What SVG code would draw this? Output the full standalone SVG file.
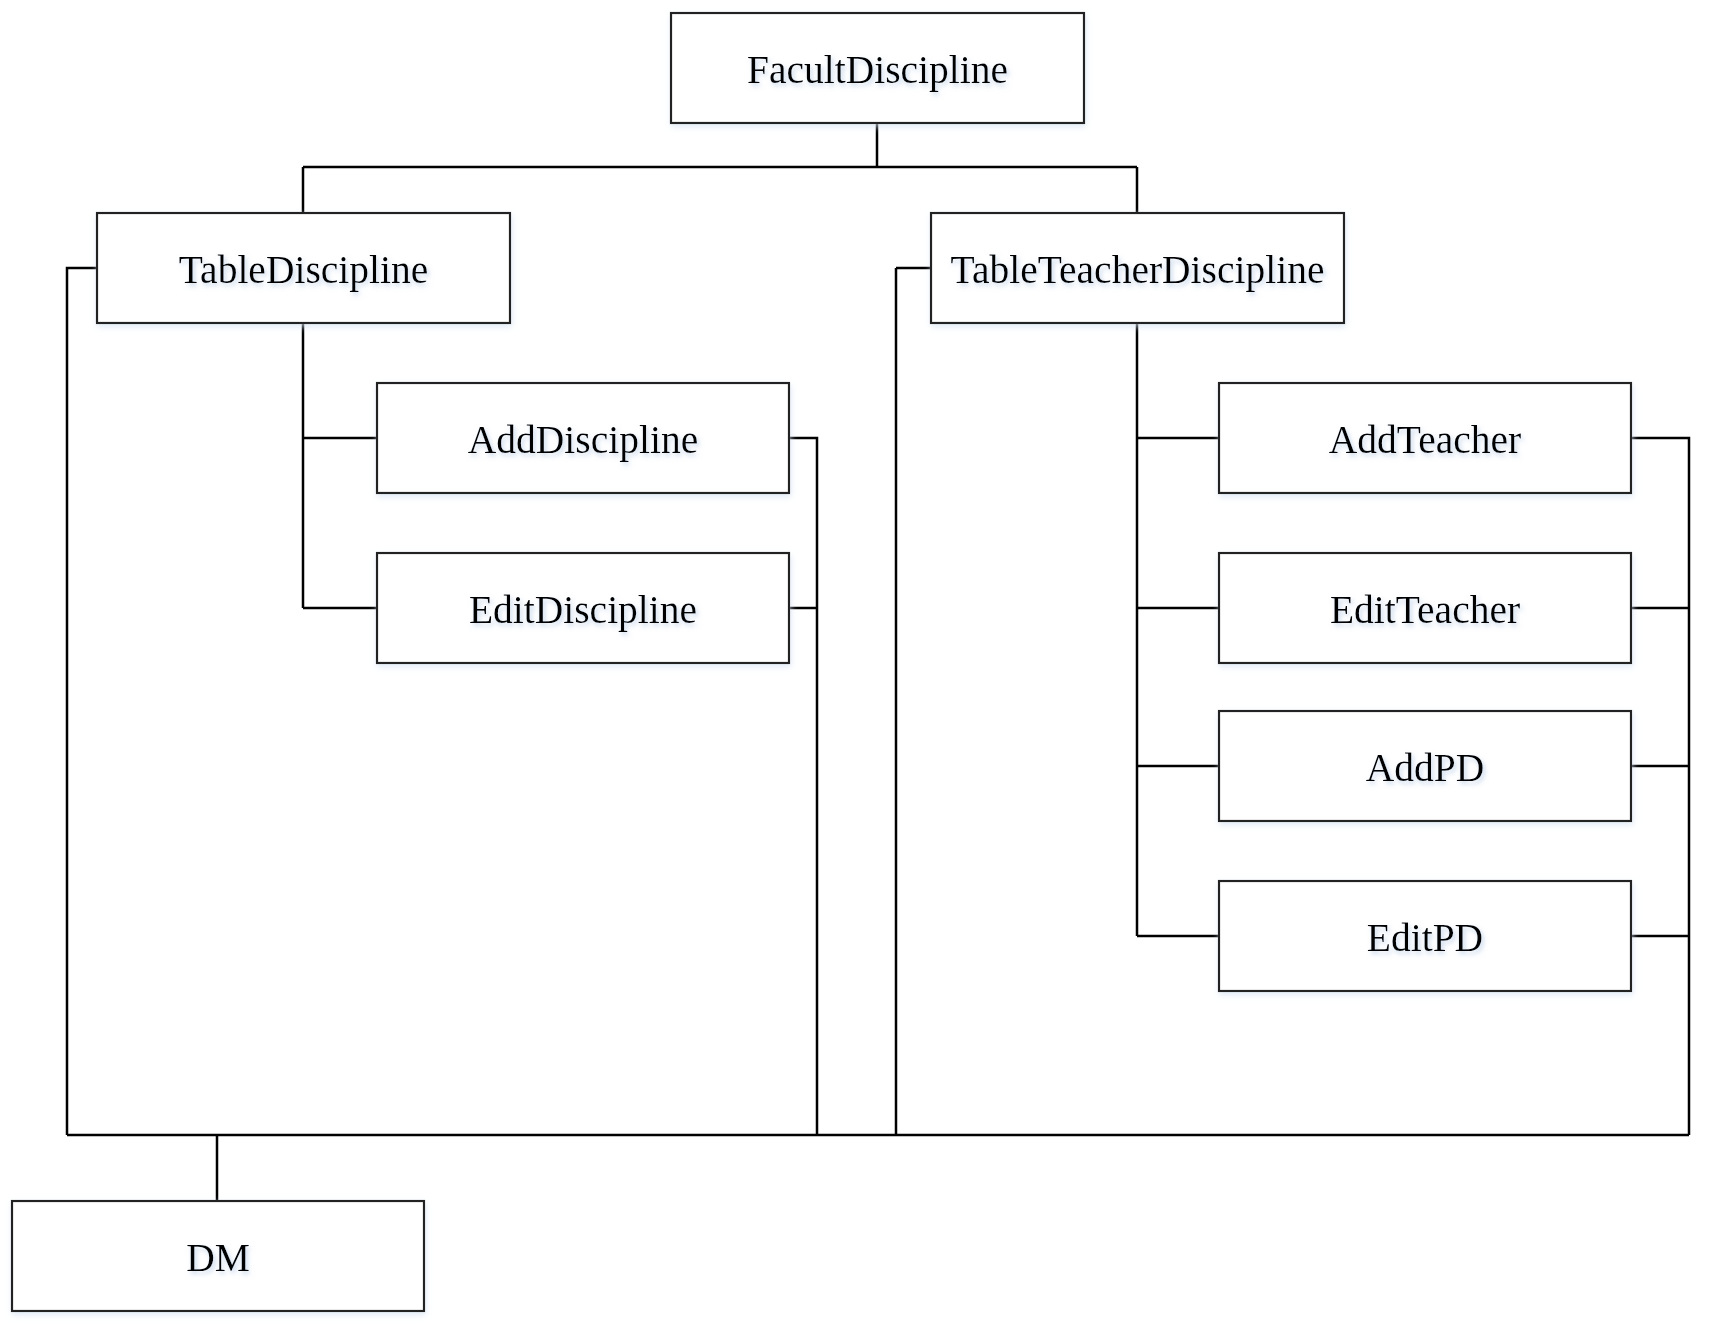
<svg xmlns="http://www.w3.org/2000/svg" width="1714" height="1334" viewBox="0 0 1714 1334">
<defs>
<filter id="glow" x="-10%" y="-30%" width="120%" height="160%">
<feDropShadow dx="2" dy="3" stdDeviation="2.5" flood-color="#b9cde6" flood-opacity="0.8"/>
</filter>
<filter id="bshadow" x="-5%" y="-10%" width="110%" height="125%">
<feDropShadow dx="1" dy="3" stdDeviation="3" flood-color="#d4e2f2" flood-opacity="0.7"/>
</filter>
</defs>
<style>
.box{fill:#ffffff;stroke:#222222;stroke-width:2.2;filter:url(#bshadow)}
.lbl{font-family:"Liberation Serif","Times New Roman",serif;font-size:39.5px;fill:#000000;text-anchor:middle;filter:url(#glow)}
.conn{fill:none;stroke:#000000;stroke-width:2.5}
</style>
<rect width="1714" height="1334" fill="#ffffff"/>
<g id="connectors" class="conn">
<path d="M877 123 V167 M303 167 H1137 M303 167 V213 M1137 167 V213"/>
<path d="M97 268 H67 V1135 M896 268 H931 M896 268 V1135"/>
<path d="M67 1135 H1689 M217 1135 V1201"/>
<path d="M303 322 V608 M303 438 H377 M303 608 H377"/>
<path d="M789 438 H817 V1135 M789 608 H817"/>
<path d="M1137 322 V936 M1137 438 H1219 M1137 608 H1219 M1137 766 H1219 M1137 936 H1219"/>
<path d="M1631 438 H1689 V1135 M1631 608 H1689 M1631 766 H1689 M1631 936 H1689"/>
</g>
<g id="node-facult"><rect class="box" x="671" y="13" width="413" height="110"/><text class="lbl" x="877.5" y="83">FacultDiscipline</text></g>
<g id="node-tablediscipline"><rect class="box" x="97" y="213" width="413" height="110"/><text class="lbl" x="303.5" y="283">TableDiscipline</text></g>
<g id="node-tableteacherdiscipline"><rect class="box" x="931" y="213" width="413" height="110"/><text class="lbl" x="1137.5" y="283">TableTeacherDiscipline</text></g>
<g id="node-adddiscipline"><rect class="box" x="377" y="383" width="412" height="110"/><text class="lbl" x="583" y="453">AddDiscipline</text></g>
<g id="node-editdiscipline"><rect class="box" x="377" y="553" width="412" height="110"/><text class="lbl" x="583" y="623">EditDiscipline</text></g>
<g id="node-addteacher"><rect class="box" x="1219" y="383" width="412" height="110"/><text class="lbl" x="1425" y="453">AddTeacher</text></g>
<g id="node-editteacher"><rect class="box" x="1219" y="553" width="412" height="110"/><text class="lbl" x="1425" y="623">EditTeacher</text></g>
<g id="node-addpd"><rect class="box" x="1219" y="711" width="412" height="110"/><text class="lbl" x="1425" y="781">AddPD</text></g>
<g id="node-editpd"><rect class="box" x="1219" y="881" width="412" height="110"/><text class="lbl" x="1425" y="951">EditPD</text></g>
<g id="node-dm"><rect class="box" x="12" y="1201" width="412" height="110"/><text class="lbl" x="218" y="1271">DM</text></g>
</svg>
